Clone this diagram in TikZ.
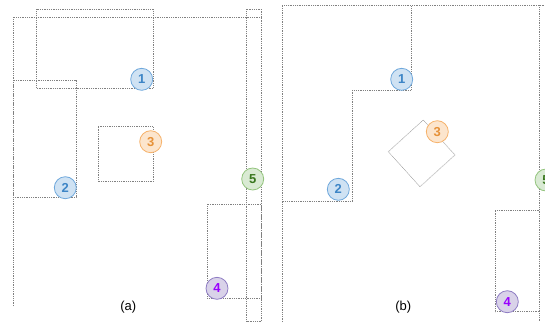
\documentclass[tikz,border=0pt]{standalone}
\usepackage{fontspec}
\setmainfont{Liberation Sans}
\definecolor{bfill}{HTML}{CFE2F3}\definecolor{bline}{HTML}{6FA8DC}\definecolor{btext}{HTML}{3D85C6}
\definecolor{ofill}{HTML}{FCE5CD}\definecolor{oline}{HTML}{F6B26B}\definecolor{otext}{HTML}{E69138}
\definecolor{gfill}{HTML}{D9EAD3}\definecolor{gline}{HTML}{93C47D}\definecolor{gtext}{HTML}{38761D}
\definecolor{pfill}{HTML}{D9D2E9}\definecolor{pline}{HTML}{8E7CC3}\definecolor{ptext}{HTML}{9900FF}
\begin{document}
\begin{tikzpicture}[x=1pt,y=-1pt,
  bnd/.style={draw=black!50,line width=0.65pt,dash pattern=on 0.9pt off 0.9pt},
  lightbnd/.style={draw=black!35,line width=0.6pt,dash pattern=on 0.9pt off 0.6pt},
  badge/.style={circle,minimum size=22pt,inner sep=0pt,line width=0.8pt,font=\fontsize{13}{13}\selectfont\bfseries},
  blueb/.style={badge,fill=bfill,draw=bline,text=btext},
  orangeb/.style={badge,fill=ofill,draw=oline,text=otext},
  greenb/.style={badge,fill=gfill,draw=gline,text=gtext},
  purpleb/.style={badge,fill=pfill,draw=pline,text=ptext},
  sublabel/.style={font=\fontsize{13}{13}\selectfont}]
\useasboundingbox (0,0) rectangle (545,322);
% ---------- panel (a) ----------
\draw[bnd] (13.3,306) -- (13.3,17.3) -- (261.7,17.3);
\draw[bnd] (36.7,9.3) rectangle (153.3,88.3);
\draw[bnd] (13.3,80) rectangle (76,197.3);
\draw[bnd] (98.3,126.7) rectangle (153.3,181.7);
\draw[bnd] (207.3,204.3) rectangle (261.7,298.3);
\draw[bnd] (246.7,9.3) rectangle (261.7,321.5);
\node[blueb] (a1) at (141.7,79.3) {1};
\node[blueb] (a2) at (65.3,187.7) {2};
\node[orangeb] (a3) at (150.7,141.7) {3};
\node[purpleb] (a4) at (217,288.3) {4};
\node[greenb] (a5) at (252.7,179) {5};
\node[sublabel] (la) at (128.3,306.7) {(a)};
% ---------- panel (b) ----------
\draw[bnd] (282.3,322) -- (282.3,5.3) -- (546,5.3);
\draw[bnd] (282.3,5.3) -- (411,5.3) -- (411,90.7) -- (352.3,90.7) -- (352.3,201.7) -- (282.3,201.7);
\draw[bnd] (539,5.3) -- (539,322);
\draw[bnd] (539,311.7) -- (495,311.7) -- (495,210) -- (539,210);
\draw[lightbnd] (423.3,120) -- (455,155) -- (420,186.7) -- (388.3,151.7) -- cycle;
\node[blueb] (b1) at (401.7,79.3) {1};
\node[blueb] (b2) at (338.3,189.3) {2};
\node[orangeb] (b3) at (437.3,131.7) {3};
\node[purpleb] (b4) at (507.3,301.7) {4};
\node[greenb] (b5) at (546,180) {5};
\node[sublabel] (lb) at (403.3,306.7) {(b)};
\end{tikzpicture}
\end{document}
